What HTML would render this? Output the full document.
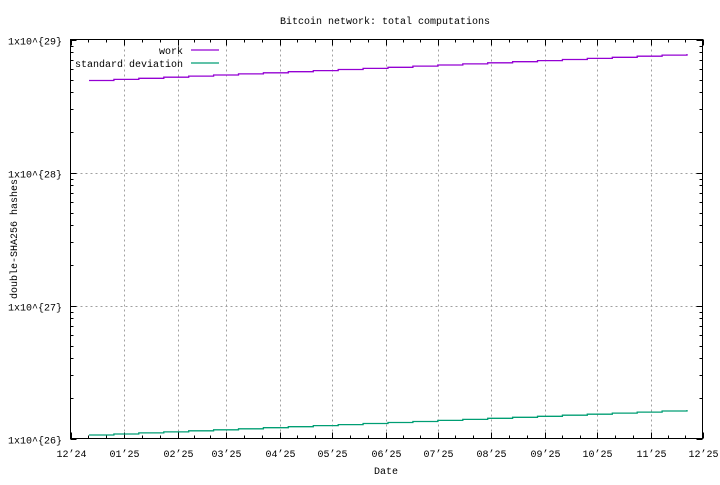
<!DOCTYPE html>
<html><head><style>
body{margin:0;background:#fff}
svg text{font-family:"Liberation Mono",monospace;font-size:10px;fill:#000}
</style></head><body>
<svg id="s" width="720" height="480" xmlns="http://www.w3.org/2000/svg">
<text x="385" y="24" text-anchor="middle">Bitcoin network: total computations</text>
<text x="386" y="474" text-anchor="middle">Date</text>
<text transform="translate(17,239) rotate(-90)" text-anchor="middle">double-SHA256 hashes</text>
<g id="g"></g>
<rect x="70.5" y="39.5" width="632" height="399" fill="none" stroke="#000" stroke-width="1"/>
<text x="183" y="54" text-anchor="end">work</text>
<line x1="191" y1="50" x2="219" y2="50" stroke="#9400d3" stroke-width="1.3"/>
<text x="183" y="67" text-anchor="end">standard deviation</text>
<line x1="191" y1="63" x2="219" y2="63" stroke="#009e73" stroke-width="1.3"/>
</svg>
<script>
var g=document.getElementById('g'),h='';
var L=70.5,R=702.5,T=39.5,B=438.5,dec=(B-T)/3;
function Y(e){return B-(e-26)*dec;}
var days=[0,31,62,90,121,151,182,212,243,274,304,335,365];
var lab=["12’24","01’25","02’25","03’25","04’25","05’25","06’25","07’25","08’25","09’25","10’25","11’25","12’25"];
function X(d){return L+(R-L)*d/365;}
for(var i=0;i<13;i++){var x=Math.round(X(days[i]))+.5;
 if(i>0&&i<12)h+='<line x1="'+x+'" y1="'+T+'" x2="'+x+'" y2="'+B+'" stroke="#a0a0a0" stroke-dasharray="2,3"/>';
 h+='<line x1="'+x+'" y1="'+B+'" x2="'+x+'" y2="'+(B-6)+'" stroke="#000"/><line x1="'+x+'" y1="'+T+'" x2="'+x+'" y2="'+(T+6)+'" stroke="#000"/>';
 h+='<text x="'+x+'" y="457" text-anchor="middle">'+lab[i]+'</text>';
 if(i<12){for(var k=1;k<3;k++){var xm=Math.round(X(days[i]+(days[i+1]-days[i])*k/3))+.5;
  h+='<line x1="'+xm+'" y1="'+B+'" x2="'+xm+'" y2="'+(B-3)+'" stroke="#000"/><line x1="'+xm+'" y1="'+T+'" x2="'+xm+'" y2="'+(T+3)+'" stroke="#000"/>';}}
}
for(var e=26;e<=29;e++){var y=Math.round(Y(e))+.5;
 if(e>26&&e<29)h+='<line x1="'+L+'" y1="'+y+'" x2="'+R+'" y2="'+y+'" stroke="#a0a0a0" stroke-dasharray="2,3"/>';
 h+='<line x1="'+L+'" y1="'+y+'" x2="'+(L+6)+'" y2="'+y+'" stroke="#000"/><line x1="'+R+'" y1="'+y+'" x2="'+(R-6)+'" y2="'+y+'" stroke="#000"/>';
 h+='<text x="62" y="'+(y+4)+'" text-anchor="end">1x10^{'+e+'}</text>';
 if(e<29)for(var m=2;m<10;m++){var ym=Math.round(Y(e+Math.log10(m)))+.5;
  h+='<line x1="'+L+'" y1="'+ym+'" x2="'+(L+3)+'" y2="'+ym+'" stroke="#000"/><line x1="'+R+'" y1="'+ym+'" x2="'+(R-3)+'" y2="'+ym+'" stroke="#000"/>';}
}
function series(y0,y1,c){var p='',x0=89,x1=687,n=24,px=x0,py=y0;p='M'+x0+','+y0;
 for(var i=1;i<=n;i++){var x=x0+(x1-x0)*i/n,y=y0+(y1-y0)*i/n;p+=' L'+x.toFixed(1)+','+py.toFixed(1)+' L'+x.toFixed(1)+','+y.toFixed(1);py=y;}
 return '<path d="'+p+'" fill="none" stroke="'+c+'" stroke-width="1.3"/>';}
h+=series(80.5,54,'#9400d3');h+=series(435,410,'#009e73');
g.innerHTML=h;
</script>
</body></html>
